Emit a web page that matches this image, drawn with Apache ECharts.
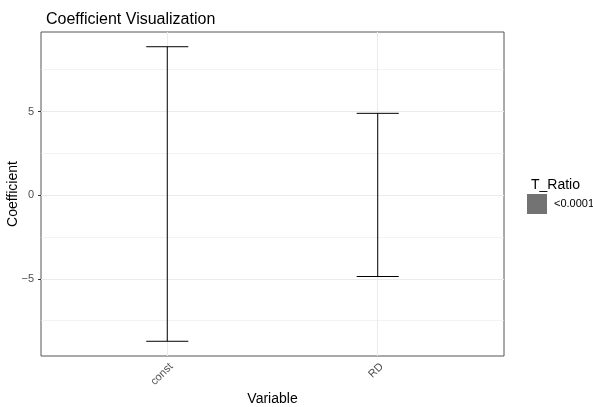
<!DOCTYPE html>
<html>
<head>
<meta charset="utf-8">
<script src="https://cdn.jsdelivr.net/npm/echarts@6/dist/echarts.min.js"></script>
<style>
  html, body { margin: 0; padding: 0; background: #fff; }
  #chart { width: 593px; height: 407px; }
</style>
</head>
<body>
<div id="chart"></div>
<script>
// data
var variables = ["const", "RD"];
var lower = [-8.73, -4.86];
var upper = [8.87, 4.89];
var tRatio = "<0.0001";
var yTicks = [-5, 0, 5];
var yMinor = [-7.5, -2.5, 2.5, 7.5];
var xTicks = [1, 2];

var font = "Liberation Sans, Arial, sans-serif";

var barData = [];
for (var i = 0; i < variables.length; i++) {
  barData.push([i + 1, lower[i], upper[i]]);
}

// errorbar like geom_errorbar, cap width 0.2
function renderItem(params, api) {
  var x = api.value(0);
  var lo = api.coord([x, api.value(1)]);
  var hi = api.coord([x, api.value(2)]);
  var half = api.coord([x + 0.1, 0])[0] - lo[0];
  var st = { stroke: "#000", lineWidth: 1 };
  return {
    type: "group",
    children: [
      { type: "line", shape: { x1: lo[0], y1: lo[1], x2: hi[0], y2: hi[1] }, style: st },
      { type: "line", shape: { x1: lo[0] - half, y1: lo[1], x2: lo[0] + half, y2: lo[1] }, style: st },
      { type: "line", shape: { x1: hi[0] - half, y1: hi[1], x2: hi[0] + half, y2: hi[1] }, style: st }
    ]
  };
}

var gridLines = [];
yMinor.forEach(function (v) {
  gridLines.push({ yAxis: v, lineStyle: { color: "#ebebeb", width: 0.6, type: "solid" } });
});
yTicks.forEach(function (v) {
  gridLines.push({ yAxis: v, lineStyle: { color: "#ebebeb", width: 1.1, type: "solid" } });
});
xTicks.forEach(function (v) {
  gridLines.push({ xAxis: v, lineStyle: { color: "#ebebeb", width: 1.1, type: "solid" } });
});

var option = {
  animation: false,
  backgroundColor: "#fff",
  textStyle: { fontFamily: font },
  title: [
    {
      text: "Coefficient Visualization",
      left: 41, top: 7,
      textStyle: { fontFamily: font, fontSize: 16, fontWeight: "normal", color: "#000" }
    },
    {
      text: "T_Ratio",
      left: 526, top: 173,
      textStyle: { fontFamily: font, fontSize: 14, fontWeight: "normal", color: "#000" }
    }
  ],
  legend: {
    left: 527, top: 194,
    padding: 0,
    icon: "rect",
    itemWidth: 20, itemHeight: 20,
    itemGap: 5,
    textStyle: { fontFamily: font, fontSize: 11, color: "#000", width: 60, overflow: "none", padding: [2, 0, 0, 2] },
    data: [tRatio]
  },
  grid: {
    left: 41, right: 89, top: 32, bottom: 51,
    outerBoundsMode: "none",
    containLabel: false,
    show: true, borderColor: "#555", borderWidth: 1, backgroundColor: "#fff"
  },
  xAxis: {
    type: "value",
    min: 0.4, max: 2.6,
    name: "Variable",
    nameLocation: "middle",
    nameGap: 36,
    nameMoveOverlap: false,
    nameTextStyle: { fontFamily: font, fontSize: 14, color: "#000" },
    axisLine: { show: false },
    splitLine: { show: false },
    axisTick: { show: true, customValues: xTicks, length: 3, lineStyle: { color: "#333" } },
    axisLabel: {
      customValues: xTicks,
      rotate: 45,
      margin: 5,
      verticalAlign: "top",
      fontFamily: font, fontSize: 11, color: "#4d4d4d",
      formatter: function (v) { return variables[Math.round(v) - 1] || ""; }
    }
  },
  yAxis: {
    type: "value",
    min: -9.61, max: 9.75,
    name: "Coefficient",
    nameLocation: "middle",
    nameGap: 21,
    nameMoveOverlap: false,
    nameTextStyle: { fontFamily: font, fontSize: 14, color: "#000" },
    axisLine: { show: false },
    splitLine: { show: false },
    axisTick: { show: true, customValues: yTicks, length: 3, lineStyle: { color: "#333" } },
    axisLabel: {
      customValues: yTicks,
      margin: 7,
      fontFamily: font, fontSize: 11, color: "#4d4d4d",
      formatter: function (v) { return String(v).replace("-", "\u2212"); }
    }
  },
  series: [
    {
      name: "grid",
      type: "line",
      data: [],
      silent: true,
      z: 1,
      markLine: { silent: true, symbol: "none", label: { show: false }, data: gridLines }
    },
    {
      name: tRatio,
      type: "bar",
      data: [],
      itemStyle: { color: "#737373" }
    },
    {
      name: "errorbar",
      type: "custom",
      renderItem: renderItem,
      data: barData,
      z: 5
    }
  ]
};

var chart = echarts.init(document.getElementById("chart"));
chart.setOption(option);
</script>
</body>
</html>
